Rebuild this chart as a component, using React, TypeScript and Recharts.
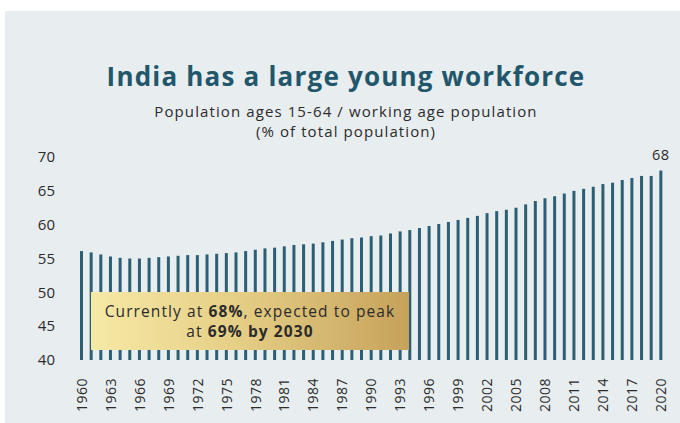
import { Bar, BarChart, XAxis, YAxis } from "recharts";

// Population ages 15-64, % of total population (India)
const YEARS = [
  1960, 1961, 1962, 1963, 1964, 1965, 1966, 1967, 1968, 1969,
  1970, 1971, 1972, 1973, 1974, 1975, 1976, 1977, 1978, 1979,
  1980, 1981, 1982, 1983, 1984, 1985, 1986, 1987, 1988, 1989,
  1990, 1991, 1992, 1993, 1994, 1995, 1996, 1997, 1998, 1999,
  2000, 2001, 2002, 2003, 2004, 2005, 2006, 2007, 2008, 2009,
  2010, 2011, 2012, 2013, 2014, 2015, 2016, 2017, 2018, 2019,
  2020,
];

const WORKING_AGE_SHARE = [
  56.1, 55.9, 55.6, 55.3, 55.1, 55.0, 55.0, 55.1, 55.2, 55.3,
  55.4, 55.5, 55.5, 55.6, 55.7, 55.8, 55.9, 56.1, 56.3, 56.5,
  56.6, 56.8, 57.0, 57.1, 57.2, 57.4, 57.6, 57.8, 58.0, 58.1,
  58.3, 58.4, 58.7, 59.0, 59.2, 59.5, 59.8, 60.1, 60.4, 60.7,
  61.0, 61.3, 61.7, 62.0, 62.2, 62.5, 63.0, 63.5, 63.9, 64.2,
  64.6, 65.0, 65.3, 65.6, 66.0, 66.2, 66.6, 66.9, 67.2, 67.2,
  68.0,
];

const Y_TICKS = [40, 45, 50, 55, 60, 65, 70];

const BAR_COLOR = "#2c5f74";
const TEXT_COLOR = "#2b2b2b";
const FONT = "'Open Sans', 'DejaVu Sans', sans-serif";

const data = YEARS.map((year, i) => ({ year, value: WORKING_AGE_SHARE[i] }));

function YearTick({ x, y, payload }: { x: number; y: number; payload: { value: number } }) {
  return (
    <text
      x={x}
      y={y + 10}
      dy="0.35em"
      transform={`rotate(-90, ${x}, ${y + 10})`}
      textAnchor="end"
      fill={TEXT_COLOR}
      fontSize={14}
      letterSpacing={0.5}
      fontFamily={FONT}
    >
      {payload.value}
    </text>
  );
}

// only the last bar (2020) carries a value label
function LastLabel(props: any) {
  const { x, y, width, value, index } = props;
  if (index !== data.length - 1) return null;
  return (
    <text
      x={x + width / 2}
      y={y - 11}
      textAnchor="middle"
      fill={TEXT_COLOR}
      fontSize={14.5}
      letterSpacing={0.5}
      fontFamily={FONT}
    >
      {Math.round(value)}
    </text>
  );
}

export default function App() {
  return (
    <div
      style={{
        position: "absolute",
        left: 0,
        top: 0,
        width: 680,
        height: 423,
        background: "#ffffff",
        overflow: "hidden",
        fontFamily: FONT,
      }}
    >
      <div
        style={{
          position: "absolute",
          left: 5,
          top: 11,
          width: 675,
          height: 412,
          background: "#e8edf0",
        }}
      />
      <div
        style={{
          position: "absolute",
          left: 0,
          top: 58,
          width: 692,
          textAlign: "center",
          fontSize: 26,
          letterSpacing: 1.2,
          fontWeight: 700,
          color: "#22566b",
        }}
      >
        India has a large young workforce
      </div>
      <div
        style={{
          position: "absolute",
          left: 0,
          top: 101,
          width: 692,
          textAlign: "center",
          fontSize: 15,
          letterSpacing: 1.1,
          lineHeight: "20px",
          color: TEXT_COLOR,
        }}
      >
        <div>Population ages 15-64 / working age population</div>
        <div>(% of total population)</div>
      </div>
      <div style={{ position: "absolute", left: 0, top: 0 }}>
        <BarChart
          width={680}
          height={423}
          data={data}
          margin={{ top: 157, right: 14, bottom: 0, left: 17 }}
          barCategoryGap={0}
        >
          <XAxis
            dataKey="year"
            interval={2}
            axisLine={false}
            tickLine={false}
            height={63}
            tick={YearTick}
          />
          <YAxis
            domain={[40, 70]}
            ticks={Y_TICKS}
            allowDataOverflow
            axisLine={false}
            tickLine={false}
            width={60}
            tickMargin={16}
            tick={{ fill: TEXT_COLOR, fontSize: 15, fontFamily: FONT }}
          />
          <Bar
            dataKey="value"
            fill={BAR_COLOR}
            barSize={3}
            isAnimationActive={false}
            label={LastLabel}
          />
        </BarChart>
      </div>
      <div
        style={{
          position: "absolute",
          left: 91,
          top: 292,
          width: 318,
          height: 58,
          background: "linear-gradient(to right, #f6e9a6 0%, #e6cf86 45%, #c6a25b 100%)",
          color: TEXT_COLOR,
          fontSize: 15.5,
          letterSpacing: 1.1,
          lineHeight: "20px",
          textAlign: "center",
          display: "flex",
          flexDirection: "column",
          justifyContent: "center",
        }}
      >
        <div>
          Currently at <b>68%</b>, expected to peak
        </div>
        <div>
          at <b>69% by 2030</b>
        </div>
      </div>
    </div>
  );
}
